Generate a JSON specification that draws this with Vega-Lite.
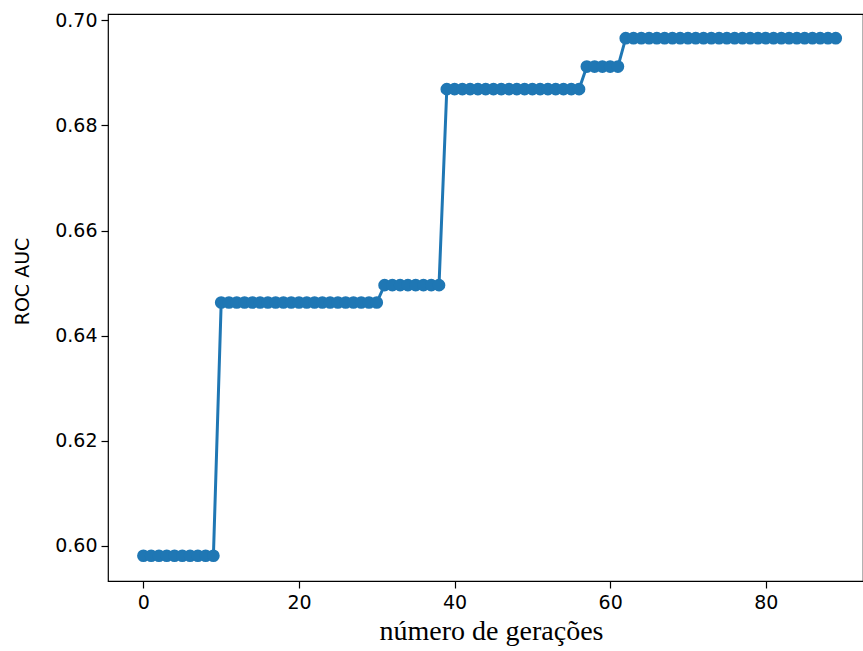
{
  "$schema": "https://vega.github.io/schema/vega-lite/v6.json",
  "width": 755,
  "height": 567,
  "autosize": {"type": "none"},
  "padding": {"left": 108, "top": 14, "right": 0, "bottom": 70},
  "background": "white",
  "config": {
    "view": {"stroke": "black", "strokeWidth": 1.2},
    "axis": {
      "grid": false,
      "domain": false,
      "tickColor": "black",
      "tickWidth": 1.2,
      "tickSize": 7,
      "labelColor": "black",
      "labelFont": "DejaVu Sans",
      "labelFontSize": 19,
      "titleColor": "black",
      "titleFontWeight": "normal"
    }
  },
  "datasets": {
    "auc": [
      {"g": 0, "auc": 0.5981}, {"g": 1, "auc": 0.5981}, {"g": 2, "auc": 0.5981}, {"g": 3, "auc": 0.5981}, {"g": 4, "auc": 0.5981},
      {"g": 5, "auc": 0.5981}, {"g": 6, "auc": 0.5981}, {"g": 7, "auc": 0.5981}, {"g": 8, "auc": 0.5981}, {"g": 9, "auc": 0.5981},
      {"g": 10, "auc": 0.6463}, {"g": 11, "auc": 0.6463}, {"g": 12, "auc": 0.6463}, {"g": 13, "auc": 0.6463}, {"g": 14, "auc": 0.6463},
      {"g": 15, "auc": 0.6463}, {"g": 16, "auc": 0.6463}, {"g": 17, "auc": 0.6463}, {"g": 18, "auc": 0.6463}, {"g": 19, "auc": 0.6463},
      {"g": 20, "auc": 0.6463}, {"g": 21, "auc": 0.6463}, {"g": 22, "auc": 0.6463}, {"g": 23, "auc": 0.6463}, {"g": 24, "auc": 0.6463},
      {"g": 25, "auc": 0.6463}, {"g": 26, "auc": 0.6463}, {"g": 27, "auc": 0.6463}, {"g": 28, "auc": 0.6463}, {"g": 29, "auc": 0.6463},
      {"g": 30, "auc": 0.6463},
      {"g": 31, "auc": 0.6496}, {"g": 32, "auc": 0.6496}, {"g": 33, "auc": 0.6496}, {"g": 34, "auc": 0.6496}, {"g": 35, "auc": 0.6496},
      {"g": 36, "auc": 0.6496}, {"g": 37, "auc": 0.6496}, {"g": 38, "auc": 0.6496},
      {"g": 39, "auc": 0.6869}, {"g": 40, "auc": 0.6869}, {"g": 41, "auc": 0.6869}, {"g": 42, "auc": 0.6869}, {"g": 43, "auc": 0.6869},
      {"g": 44, "auc": 0.6869}, {"g": 45, "auc": 0.6869}, {"g": 46, "auc": 0.6869}, {"g": 47, "auc": 0.6869}, {"g": 48, "auc": 0.6869},
      {"g": 49, "auc": 0.6869}, {"g": 50, "auc": 0.6869}, {"g": 51, "auc": 0.6869}, {"g": 52, "auc": 0.6869}, {"g": 53, "auc": 0.6869},
      {"g": 54, "auc": 0.6869}, {"g": 55, "auc": 0.6869}, {"g": 56, "auc": 0.6869},
      {"g": 57, "auc": 0.6912}, {"g": 58, "auc": 0.6912}, {"g": 59, "auc": 0.6912}, {"g": 60, "auc": 0.6912}, {"g": 61, "auc": 0.6912},
      {"g": 62, "auc": 0.6966}, {"g": 63, "auc": 0.6966}, {"g": 64, "auc": 0.6966}, {"g": 65, "auc": 0.6966}, {"g": 66, "auc": 0.6966},
      {"g": 67, "auc": 0.6966}, {"g": 68, "auc": 0.6966}, {"g": 69, "auc": 0.6966}, {"g": 70, "auc": 0.6966}, {"g": 71, "auc": 0.6966},
      {"g": 72, "auc": 0.6966}, {"g": 73, "auc": 0.6966}, {"g": 74, "auc": 0.6966}, {"g": 75, "auc": 0.6966}, {"g": 76, "auc": 0.6966},
      {"g": 77, "auc": 0.6966}, {"g": 78, "auc": 0.6966}, {"g": 79, "auc": 0.6966}, {"g": 80, "auc": 0.6966}, {"g": 81, "auc": 0.6966},
      {"g": 82, "auc": 0.6966}, {"g": 83, "auc": 0.6966}, {"g": 84, "auc": 0.6966}, {"g": 85, "auc": 0.6966}, {"g": 86, "auc": 0.6966},
      {"g": 87, "auc": 0.6966}, {"g": 88, "auc": 0.6966}, {"g": 89, "auc": 0.6966}
    ]
  },
  "data": {"name": "auc"},
  "mark": {
    "type": "line",
    "color": "#1f77b4",
    "strokeWidth": 3,
    "clip": true,
    "point": {"filled": true, "size": 160, "opacity": 1, "color": "#1f77b4"}
  },
  "encoding": {
    "x": {
      "field": "g",
      "type": "quantitative",
      "scale": {"domain": [-4.55, 92.5], "nice": false, "zero": false},
      "axis": {
        "values": [0, 20, 40, 60, 80],
        "format": "d",
        "labelPadding": 5,
        "title": "número de gerações",
        "titleFont": "Liberation Serif",
        "titleFontSize": 28,
        "titleX": 383,
        "titleY": 58,
        "titleBaseline": "alphabetic"
      }
    },
    "y": {
      "field": "auc",
      "type": "quantitative",
      "scale": {"domain": [0.5933, 0.7012], "nice": false, "zero": false},
      "axis": {
        "values": [0.6, 0.62, 0.64, 0.66, 0.68, 0.7],
        "format": ".2f",
        "labelPadding": 4,
        "title": "ROC AUC",
        "titleFont": "DejaVu Sans",
        "titleFontSize": 19,
        "titleX": -86,
        "titleY": 267,
        "titleBaseline": "middle"
      }
    }
  }
}
